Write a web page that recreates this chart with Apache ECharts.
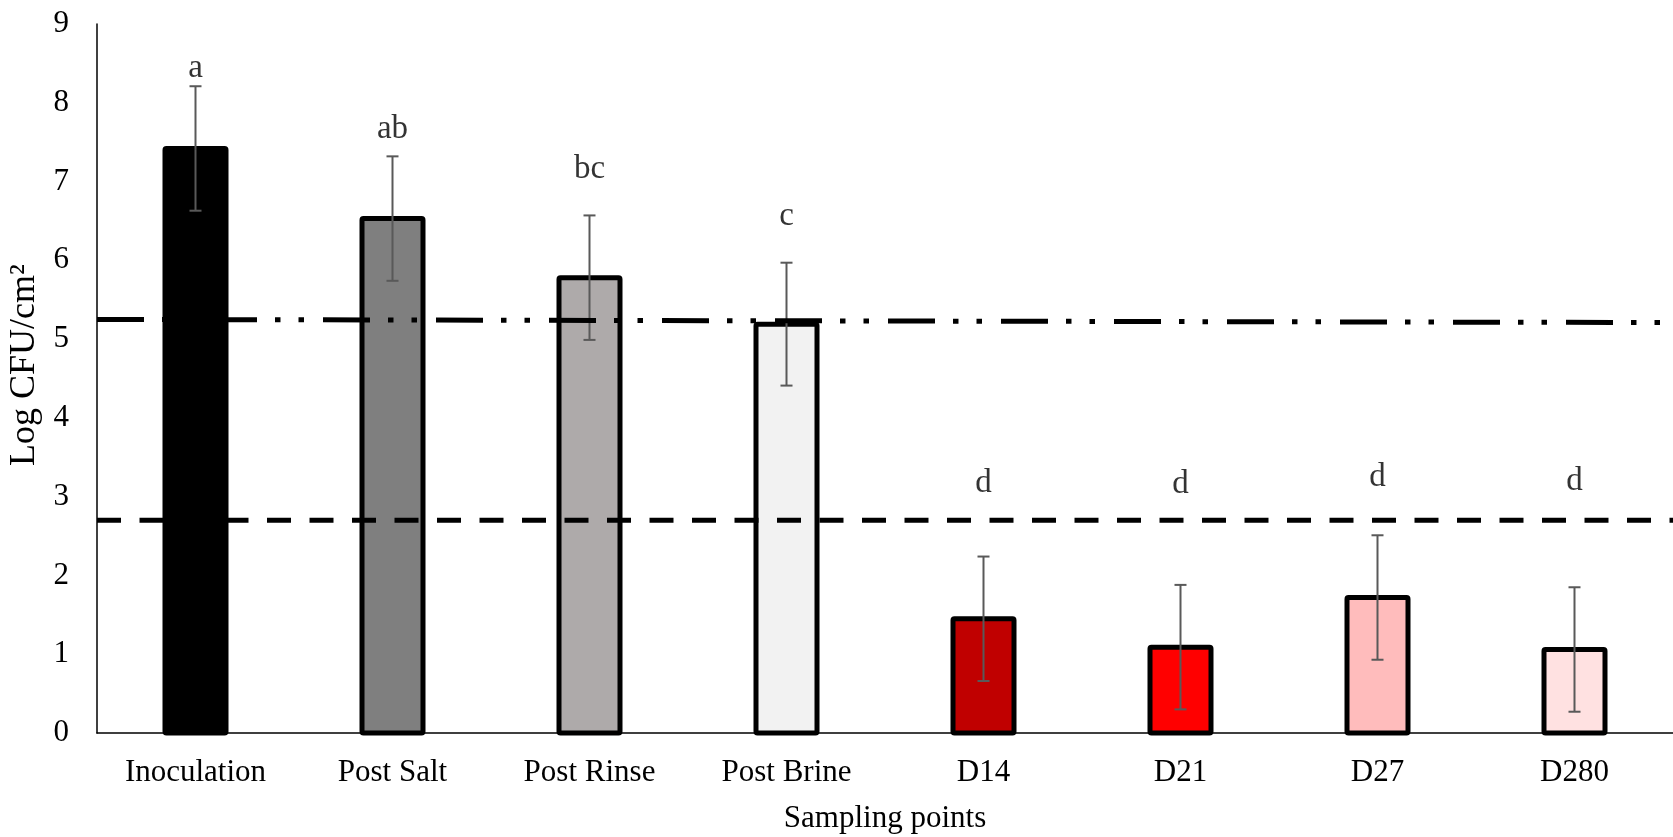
<!DOCTYPE html>
<html>
<head>
<meta charset="utf-8">
<script src="https://cdn.jsdelivr.net/npm/echarts@6/dist/echarts.min.js"></script>
<style>
html,body{margin:0;padding:0;background:#fff;}
#chart{width:1673px;height:837px;}
</style>
</head>
<body>
<div id="chart"></div>
<script>
const categories = ['Inoculation','Post Salt','Post Rinse','Post Brine','D14','D21','D27','D280'];
const means = [7.42, 6.53, 5.78, 5.19, 1.45, 1.09, 1.72, 1.06];
const errors = [0.79, 0.79, 0.79, 0.78, 0.79, 0.79, 0.79, 0.79];
const barColors = ['#000000','#7f7f7f','#aeaaaa','#f2f2f2','#c00000','#ff0000','#ffbcbc','#ffe1e1'];
const letters = ['a','ab','bc','c','d','d','d','d'];
const letterY = [8.44, 7.66, 7.16, 6.56, 3.17, 3.16, 3.25, 3.19];
const upperLimit = [[0, 5.25], [1, 5.21]];
const lowerLimit = [[0, 2.70], [1, 2.70]];
const yTicks = {min: 0, max: 9, interval: 1};

const FONT = 'Liberation Serif';
const BAR_W = 61;
const chart = echarts.init(document.getElementById('chart'), null, {renderer: 'canvas'});

const option = {
  backgroundColor: '#ffffff',
  animation: false,
  grid: {left: 97, right: 0, top: 24, bottom: 104, containLabel: false, outerBoundsMode: 'none'},
  xAxis: [{
    type: 'category',
    data: categories,
    boundaryGap: true,
    name: 'Sampling points',
    nameLocation: 'middle',
    nameGap: 70,
    nameTextStyle: {fontFamily: FONT, fontSize: 31, color: '#000'},
    axisLine: {show: true, lineStyle: {color: '#000', width: 1.5}},
    axisTick: {show: false},
    axisLabel: {fontFamily: FONT, fontSize: 31, color: '#000', margin: 24, interval: 0},
    splitLine: {show: false}
  }, {
    type: 'value',
    min: 0, max: 1,
    show: false
  }],
  yAxis: {
    type: 'value',
    min: yTicks.min, max: yTicks.max, interval: yTicks.interval,
    name: 'Log CFU/cm²',
    nameLocation: 'middle',
    nameGap: 46,
    nameTextStyle: {fontFamily: FONT, fontSize: 36, color: '#000', padding: [0, 0, 0, 27]},
    axisLine: {show: true, lineStyle: {color: '#000', width: 1.5}},
    axisTick: {show: false},
    axisLabel: {fontFamily: FONT, fontSize: 31, color: '#000', margin: 28},
    splitLine: {show: false}
  },
  series: [
    {
      type: 'custom',
      z: 2,
      data: means.map((v, i) => [i, v]),
      renderItem: function (params, api) {
        const i = api.value(0);
        const top = api.coord([i, api.value(1)]);
        const base = api.coord([i, 0]);
        return {
          type: 'rect',
          shape: {x: top[0] - BAR_W / 2, y: top[1], width: BAR_W, height: base[1] - top[1], r: 1.5},
          style: {fill: barColors[params.dataIndex], stroke: '#000', lineWidth: 5, lineJoin: 'round'}
        };
      }
    },
    {
      type: 'custom',
      z: 4,
      data: means.map((v, i) => [i, v - errors[i], v + errors[i]]),
      renderItem: function (params, api) {
        const x = api.value(0);
        const lo = api.coord([x, api.value(1)]);
        const hi = api.coord([x, api.value(2)]);
        const cap = 6;
        const style = {stroke: '#595959', lineWidth: 2, fill: null};
        return {
          type: 'group',
          children: [
            {type: 'line', shape: {x1: lo[0], y1: lo[1], x2: hi[0], y2: hi[1]}, style: style},
            {type: 'line', shape: {x1: lo[0] - cap, y1: lo[1], x2: lo[0] + cap, y2: lo[1]}, style: style},
            {type: 'line', shape: {x1: hi[0] - cap, y1: hi[1], x2: hi[0] + cap, y2: hi[1]}, style: style}
          ]
        };
      }
    },
    {
      type: 'scatter',
      z: 5,
      symbolSize: 0,
      data: letterY.map((v, i) => [i, v]),
      label: {
        show: true,
        position: 'inside',
        formatter: p => letters[p.dataIndex],
        fontFamily: FONT, fontSize: 33, color: '#000'
      }
    },
    {
      type: 'line',
      xAxisIndex: 1,
      z: 6,
      data: upperLimit,
      symbol: 'none',
      lineStyle: {color: '#000', width: 5, type: [47, 18, 5.5, 18, 5.5, 19], cap: 'butt'}
    },
    {
      type: 'line',
      xAxisIndex: 1,
      z: 6,
      data: lowerLimit,
      symbol: 'none',
      lineStyle: {color: '#000', width: 5, type: [24, 18.5], cap: 'butt'}
    }
  ]
};
chart.setOption(option);
</script>
</body>
</html>
